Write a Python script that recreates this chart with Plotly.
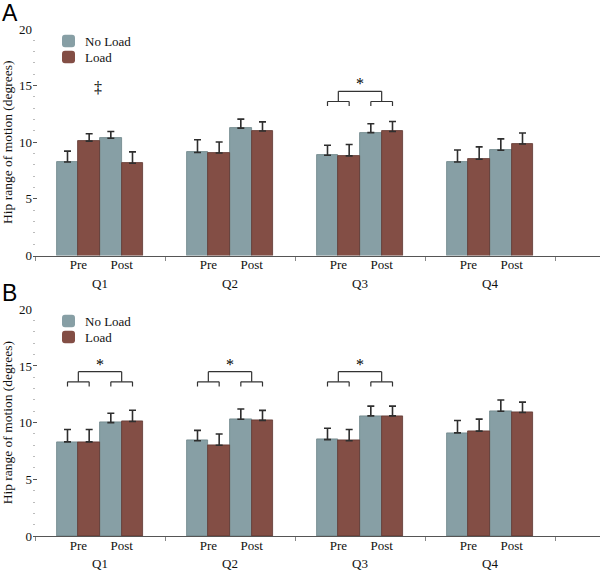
import plotly.graph_objects as go
from plotly.subplots import make_subplots

quarters = ["Q1", "Q2", "Q3", "Q4"]
phases = ["Pre", "Post"]
conditions = ["No Load", "Load"]

# values ordered Q1 Pre, Q1 Post, Q2 Pre, Q2 Post, ...
A_noload = [8.25, 10.35, 9.1, 11.25, 8.85, 10.85, 8.25, 9.3]
A_noload_err = [0.97, 0.6, 1.12, 0.79, 0.88, 0.79, 1.06, 1.0]
A_load = [10.1, 8.15, 9.05, 11.0, 8.8, 10.95, 8.5, 9.85]
A_load_err = [0.65, 1.0, 0.97, 0.8, 1.0, 0.88, 1.09, 0.97]

B_noload = [8.3, 10.0, 8.4, 10.3, 8.5, 10.6, 9.1, 11.0]
B_noload_err = [1.1, 0.83, 0.92, 0.91, 1.0, 0.86, 1.09, 1.0]
B_load = [8.3, 10.1, 8.0, 10.2, 8.4, 10.6, 9.25, 10.9]
B_load_err = [1.1, 1.0, 1.0, 0.88, 1.0, 0.86, 1.06, 0.91]

# significance brackets (Pre vs Post) per panel, and other markers
A_star_quarters = ["Q3"]
B_star_quarters = ["Q1", "Q2", "Q3"]
A_dagger_quarters = ["Q1"]

colors = {"No Load": "#879FA5", "Load": "#834E45"}
edges = {"No Load": "#6C8388", "Load": "#5E3630"}

SERIF = "Liberation Serif"
BW = 1 / 6
phase_off = {"Pre": -1 / 6, "Post": 1 / 6}
cond_off = {"No Load": -1 / 12, "Load": 1 / 12}

panels = [
    ("A", {"No Load": (A_noload, A_noload_err), "Load": (A_load, A_load_err)}, A_star_quarters, A_dagger_quarters),
    ("B", {"No Load": (B_noload, B_noload_err), "Load": (B_load, B_load_err)}, B_star_quarters, []),
]

fig = make_subplots(rows=2, cols=1)

# layout geometry in pixels
W, H = 600, 571
ml, mr, mt, mb = 33, 0, 29, 35
ph = H - mt - mb
pw = W - ml - mr
dom_A = [(536 - 255.5) / ph, 1.0]
dom_B = [0.0, (536 - 309.3) / ph]


def px_x(v):
    return (v - ml) / pw


def px_y(v):
    return (536 - v) / ph


def rounded_square(x0, y0, x1, y1, r):
    # pixel coords -> paper path with rounded corners
    X = px_x
    Y = px_y
    return (f"M {X(x0 + r)},{Y(y0)} L {X(x1 - r)},{Y(y0)} Q {X(x1)},{Y(y0)} {X(x1)},{Y(y0 + r)} "
            f"L {X(x1)},{Y(y1 - r)} Q {X(x1)},{Y(y1)} {X(x1 - r)},{Y(y1)} "
            f"L {X(x0 + r)},{Y(y1)} Q {X(x0)},{Y(y1)} {X(x0)},{Y(y1 - r)} "
            f"L {X(x0)},{Y(y0 + r)} Q {X(x0)},{Y(y0)} {X(x0 + r)},{Y(y0)} Z")


shapes = []
annotations = []
pos = []
for qi, q in enumerate(quarters):
    for p in phases:
        pos.append((qi, p))

for r, (label, data, stars, daggers) in enumerate(panels, start=1):
    for c in conditions:
        vals, errs = data[c]
        xs = [qi + phase_off[p] + cond_off[c] for qi, p in pos]
        fig.add_trace(
            go.Bar(
                x=xs, y=vals, width=BW, name=c,
                marker=dict(color=colors[c], line=dict(color=edges[c], width=0.8)),
                error_y=dict(type="data", array=errs, symmetric=False,
                             arrayminus=[0] * len(errs), color="#2e2e2e",
                             thickness=1.6, width=3.5),
                showlegend=False,
            ),
            row=r, col=1,
        )
    xref = "x" if r == 1 else "x2"
    yref = "y" if r == 1 else "y2"
    ydom = "y domain" if r == 1 else "y2 domain"
    lc = dict(color="#333333", width=1.2)
    for q in stars:
        qi = quarters.index(q)
        y_small, y_leg, y_top = 13.6, 13.2, 14.5
        mids = []
        for p in phases:
            x0 = qi + phase_off[p] + cond_off["No Load"]
            x1 = qi + phase_off[p] + cond_off["Load"]
            mids.append(qi + phase_off[p])
            shapes.append(dict(type="line", xref=xref, yref=yref, x0=x0, x1=x1, y0=y_small, y1=y_small, line=lc))
            shapes.append(dict(type="line", xref=xref, yref=yref, x0=x0, x1=x0, y0=y_small, y1=y_leg, line=lc))
            shapes.append(dict(type="line", xref=xref, yref=yref, x0=x1, x1=x1, y0=y_small, y1=y_leg, line=lc))
            shapes.append(dict(type="line", xref=xref, yref=yref, x0=mids[-1], x1=mids[-1], y0=y_small, y1=y_top, line=lc))
        shapes.append(dict(type="line", xref=xref, yref=yref, x0=mids[0], x1=mids[1], y0=y_top, y1=y_top, line=lc))
        annotations.append(dict(x=qi, y=y_top, xref=xref, yref=yref, text="*", showarrow=False,
                                yanchor="bottom", yshift=-3, font=dict(family=SERIF, size=16, color="#000")))
    for q in daggers:
        qi = quarters.index(q)
        annotations.append(dict(x=qi - 0.015, y=14.87, xref=xref, yref=yref, text="‡", showarrow=False,
                                font=dict(family=SERIF, size=16, color="#000")))
    for qi, q in enumerate(quarters):
        annotations.append(dict(x=qi, y=0, xref=xref, yref=ydom, text=q, showarrow=False,
                                yanchor="top", yshift=-18, font=dict(family=SERIF, size=13, color="#111")))

    # legend (custom, rounded swatches)
    top = 34.7 if r == 1 else 314.7
    for i, c in enumerate(conditions):
        y0 = top + i * 16
        shapes.append(dict(type="path", xref="paper", yref="paper",
                           path=rounded_square(62, y0, 75, y0 + 12.5, 3),
                           fillcolor=colors[c], line=dict(width=0)))
        annotations.append(dict(x=px_x(83), y=px_y(y0 + 6.5), xref="paper", yref="paper", text=c,
                                showarrow=False, xanchor="left", yanchor="middle",
                                font=dict(family=SERIF, size=13, color="#111")))

for letter, cy in [("A", 13.5), ("B", 293)]:
    annotations.append(dict(x=px_x(0), y=px_y(cy), xref="paper", yref="paper", text=letter,
                            showarrow=False, xanchor="left", yanchor="middle",
                            font=dict(family="Liberation Sans", size=23, color="#000")))

xtickvals = [qi + phase_off[p] for qi, p in pos]
xticktext = [p for qi, p in pos]
xr = [(ml - 100) / 130, (W - 100) / 130]

for r, dom in [(1, dom_A), (2, dom_B)]:
    fig.update_xaxes(
        row=r, col=1, range=xr, tickmode="array", tickvals=xtickvals, ticktext=xticktext,
        ticks="", showline=True, linecolor="#555555", linewidth=1, showgrid=False, zeroline=False,
        tickfont=dict(family=SERIF, size=13, color="#111"), ticklabelstandoff=-3,
        minor=dict(tickmode="array", tickvals=[-0.5, 0.5, 1.5, 2.5, 3.5], ticks="outside",
                   ticklen=4, tickcolor="#888888", showgrid=False),
        fixedrange=True,
    )
    fig.update_yaxes(
        row=r, col=1, domain=dom, range=[0, 20], tickvals=[0, 5, 10, 15, 20],
        ticks="inside", ticklen=4, tickcolor="#555555", showline=False, showgrid=False, zeroline=False,
        tickfont=dict(family=SERIF, size=13, color="#111"),
        minor=dict(tickmode="array", tickvals=[v for v in range(21) if v % 5 != 0],
                   ticks="inside", ticklen=2, tickcolor="#bbbbbb", showgrid=False),
        title=dict(text="Hip range of motion (degrees)", font=dict(family=SERIF, size=13.5, color="#111"), standoff=3),
    )

fig.update_layout(
    width=W, height=H, margin=dict(l=ml, r=mr, t=mt, b=mb),
    plot_bgcolor="white", paper_bgcolor="white", bargap=0, showlegend=False,
    shapes=shapes, annotations=annotations,
)

fig.write_html("out.html", config={"displayModeBar": False},
               post_script="document.body.style.margin='0px';document.body.style.overflow='hidden';")
